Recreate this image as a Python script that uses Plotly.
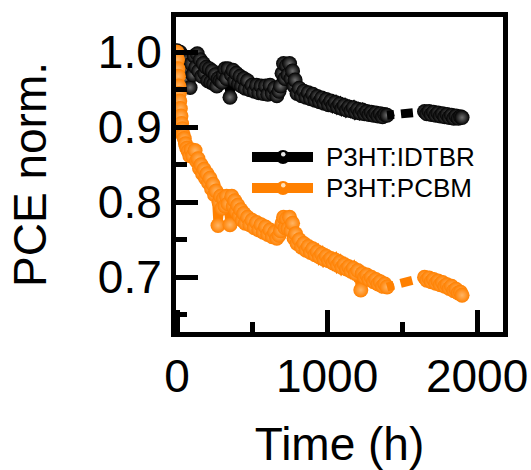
import plotly.graph_objects as go

# ---- data ----
idtbr_t1 = [0, 10, 20, 30, 40, 50, 60, 70, 80, 87, 95, 105, 115, 125, 135, 145, 155, 165, 175, 185, 195,
            205, 215, 225, 235, 245, 255, 265, 275, 287, 300, 310, 320, 330, 340, 353, 363, 373, 385, 395,
            410, 420, 430, 445, 455, 470, 485, 500, 515, 530, 545, 560, 575, 590, 605, 620, 635, 650, 665,
            680, 690, 700, 710, 720, 730, 740, 750, 760, 770, 780, 787, 800, 815, 830, 845, 860, 875, 890,
            905, 920, 935, 950, 965, 980, 995, 1010, 1025, 1040, 1055, 1070, 1085, 1100, 1115, 1130, 1145,
            1160, 1175, 1190, 1205, 1220, 1235, 1250, 1265, 1280, 1295, 1310, 1325, 1340, 1355, 1370, 1385,
            1400]
idtbr_v1 = [1.002, 0.990, 1.000, 0.975, 0.995, 0.985, 0.965, 0.990, 0.975, 0.953, 0.985, 0.970, 0.995,
            0.980, 0.998, 0.975, 0.990, 0.968, 0.985, 0.972, 0.980, 0.962, 0.978, 0.960, 0.975, 0.958, 0.970,
            0.955, 0.965, 0.962, 0.960, 0.970, 0.978, 0.965, 0.978, 0.940, 0.970, 0.976, 0.962, 0.972, 0.958,
            0.968, 0.955, 0.965, 0.952, 0.962, 0.950, 0.956, 0.948, 0.956, 0.946, 0.955, 0.945, 0.955, 0.944,
            0.956, 0.945, 0.952, 0.942, 0.948, 0.955, 0.972, 0.985, 0.965, 0.982, 0.970, 0.985, 0.965, 0.975,
            0.955, 0.963, 0.945, 0.952, 0.942, 0.948, 0.940, 0.946, 0.938, 0.944, 0.936, 0.941, 0.934, 0.939,
            0.932, 0.937, 0.930, 0.935, 0.929, 0.933, 0.927, 0.931, 0.925, 0.929, 0.923, 0.927, 0.922, 0.926,
            0.920, 0.924, 0.919, 0.923, 0.918, 0.921, 0.917, 0.920, 0.916, 0.919, 0.915, 0.918, 0.914, 0.917,
            0.916]
idtbr_t2 = [1650, 1665, 1680, 1695, 1710, 1725, 1740, 1755, 1770, 1785, 1800, 1815, 1830, 1845, 1860,
            1875, 1890, 1900]
idtbr_v2 = [0.921, 0.918, 0.921, 0.917, 0.920, 0.916, 0.919, 0.915, 0.918, 0.914, 0.917, 0.913, 0.916,
            0.912, 0.915, 0.912, 0.914, 0.913]

pcbm_t1 = [0, 3, 6, 9, 12, 15, 18, 22, 26, 30, 35, 40, 48, 56, 65, 75, 85, 95, 105, 120, 130, 140, 150,
           160, 170, 180, 190, 200, 210, 220, 230, 240, 250, 260, 273, 280, 290, 300, 310, 320, 330, 340,
           353, 365, 375, 385, 395, 405, 415, 425, 435, 445, 455, 470, 485, 500, 515, 530, 545, 560, 575,
           590, 605, 620, 635, 650, 665, 680, 690, 700, 710, 720, 730, 740, 750, 760, 770, 780, 790, 800,
           815, 830, 845, 860, 875, 890, 905, 920, 935, 950, 965, 980, 995, 1010, 1025, 1040, 1055, 1070,
           1085, 1100, 1115, 1130, 1145, 1160, 1175, 1190, 1205, 1225, 1235, 1250, 1265, 1280, 1295, 1310,
           1325, 1340, 1355, 1370, 1385, 1400]
pcbm_v1 = [1.000, 0.990, 0.978, 0.968, 0.955, 0.945, 0.935, 0.925, 0.915, 0.905, 0.898, 0.890, 0.885,
           0.878, 0.872, 0.868, 0.862, 0.870, 0.862, 0.869, 0.855, 0.858, 0.845, 0.850, 0.838, 0.844, 0.832,
           0.838, 0.826, 0.832, 0.818, 0.824, 0.810, 0.815, 0.769, 0.800, 0.808, 0.792, 0.805, 0.795, 0.808,
           0.798, 0.770, 0.808, 0.795, 0.802, 0.788, 0.796, 0.782, 0.790, 0.776, 0.785, 0.772, 0.780, 0.770,
           0.776, 0.766, 0.773, 0.763, 0.770, 0.760, 0.767, 0.757, 0.763, 0.754, 0.760, 0.752, 0.756, 0.762,
           0.772, 0.780, 0.766, 0.778, 0.765, 0.780, 0.762, 0.772, 0.752, 0.758, 0.745, 0.750, 0.740, 0.745,
           0.736, 0.741, 0.733, 0.738, 0.730, 0.734, 0.727, 0.731, 0.724, 0.728, 0.722, 0.725, 0.719, 0.723,
           0.716, 0.720, 0.713, 0.717, 0.711, 0.714, 0.708, 0.712, 0.705, 0.709, 0.683, 0.705, 0.700, 0.703,
           0.697, 0.700, 0.694, 0.697, 0.691, 0.694, 0.688, 0.691, 0.687]
pcbm_t2 = [1650, 1665, 1680, 1695, 1710, 1725, 1740, 1755, 1770, 1785, 1800, 1815, 1830, 1845, 1860,
           1875, 1890, 1900]
pcbm_v2 = [0.700, 0.696, 0.699, 0.694, 0.697, 0.692, 0.695, 0.690, 0.693, 0.688, 0.690, 0.685, 0.688,
           0.682, 0.684, 0.679, 0.680, 0.676]

series_names = ["P3HT:IDTBR", "P3HT:PCBM"]
series_colors = ["#000000", "#ff8000"]
series_highlights = ["#707070", "#ffb565"]
series_data = [(idtbr_t1, idtbr_v1, idtbr_t2, idtbr_v2), (pcbm_t1, pcbm_v1, pcbm_t2, pcbm_v2)]

FONT = "Liberation Sans, Arial, Helvetica, sans-serif"
W, H = 531, 470
ML, MR, MT, MB = 176, 28, 17, 138
PW, PH = W - ML - MR, H - MT - MB


def px(x):
    return (x - ML) / PW


def py(y):
    return (H - MB - y) / PH


fig = go.Figure()
shapes, annotations = [], []
for i, (name, col, hi, (t1, v1, t2, v2)) in enumerate(zip(series_names, series_colors,
                                                         series_highlights, series_data)):
    mk = dict(size=15, color=col, line=dict(width=0), gradient=dict(type="radial", color=hi))
    fig.add_trace(go.Scatter(x=t1, y=v1, mode="lines+markers", name=name, showlegend=False,
                             line=dict(color=col, width=9), marker=mk))
    fig.add_trace(go.Scatter(x=[t1[-1], t2[0]], y=[v1[-1], v2[0]], mode="lines", showlegend=False,
                             line=dict(color=col, width=9, dash="7px,7px,12px,30px")))
    fig.add_trace(go.Scatter(x=t2, y=v2, mode="lines+markers", showlegend=False,
                             line=dict(color=col, width=9), marker=mk))
    # legend entry (line + sphere marker + label)
    yc = 157 + 31 * i
    shapes.append(dict(type="line", xref="paper", yref="paper", x0=px(252), x1=px(313),
                       y0=py(yc), y1=py(yc), line=dict(color=col, width=10)))
    shapes.append(dict(type="circle", xref="paper", yref="paper", x0=px(276), x1=px(290),
                       y0=py(yc + 7), y1=py(yc - 7), fillcolor=col, line=dict(width=0)))
    shapes.append(dict(type="circle", xref="paper", yref="paper", x0=px(281), x1=px(285.5),
                       y0=py(yc - 0.5), y1=py(yc - 5), fillcolor="#e8e8e8" if i == 0 else "#ffe0b8",
                       line=dict(width=0)))
    annotations.append(dict(text=name, xref="paper", yref="paper", x=px(324), y=py(yc),
                            xanchor="left", yanchor="middle", showarrow=False,
                            font=dict(family=FONT, size=26, color="black")))

axis_common = dict(showline=True, linewidth=5, linecolor="black", mirror=True, showgrid=False,
                   zeroline=False, ticks="inside", tickwidth=5, tickcolor="black", ticklen=22,
                   tickfont=dict(family=FONT, size=46, color="black"))
fig.update_xaxes(range=[-7, 2173], tickvals=[0, 1000, 2000], ticktext=["0", "1000", "2000"],
                 minor=dict(dtick=500, tick0=0, ticks="inside", ticklen=10, tickwidth=5, tickcolor="black"),
                 title=dict(text="Time (h)", font=dict(family=FONT, size=46, color="black"), standoff=28),
                 **axis_common)
fig.update_yaxes(range=[0.627, 1.047], tickvals=[0.7, 0.8, 0.9, 1.0], ticktext=["0.7", "0.8", "0.9", "1.0"],
                 minor=dict(dtick=0.05, tick0=0.65, ticks="inside", ticklen=11, tickwidth=5, tickcolor="black"),
                 title=dict(text="PCE norm.", font=dict(family=FONT, size=46, color="black"), standoff=38),
                 **axis_common)
fig.update_layout(
    width=W, height=H, margin=dict(l=ML, r=MR, t=MT, b=MB, autoexpand=False),
    plot_bgcolor="white", paper_bgcolor="white", showlegend=False,
    shapes=shapes, annotations=annotations,
)
fig.write_html("out.html")
